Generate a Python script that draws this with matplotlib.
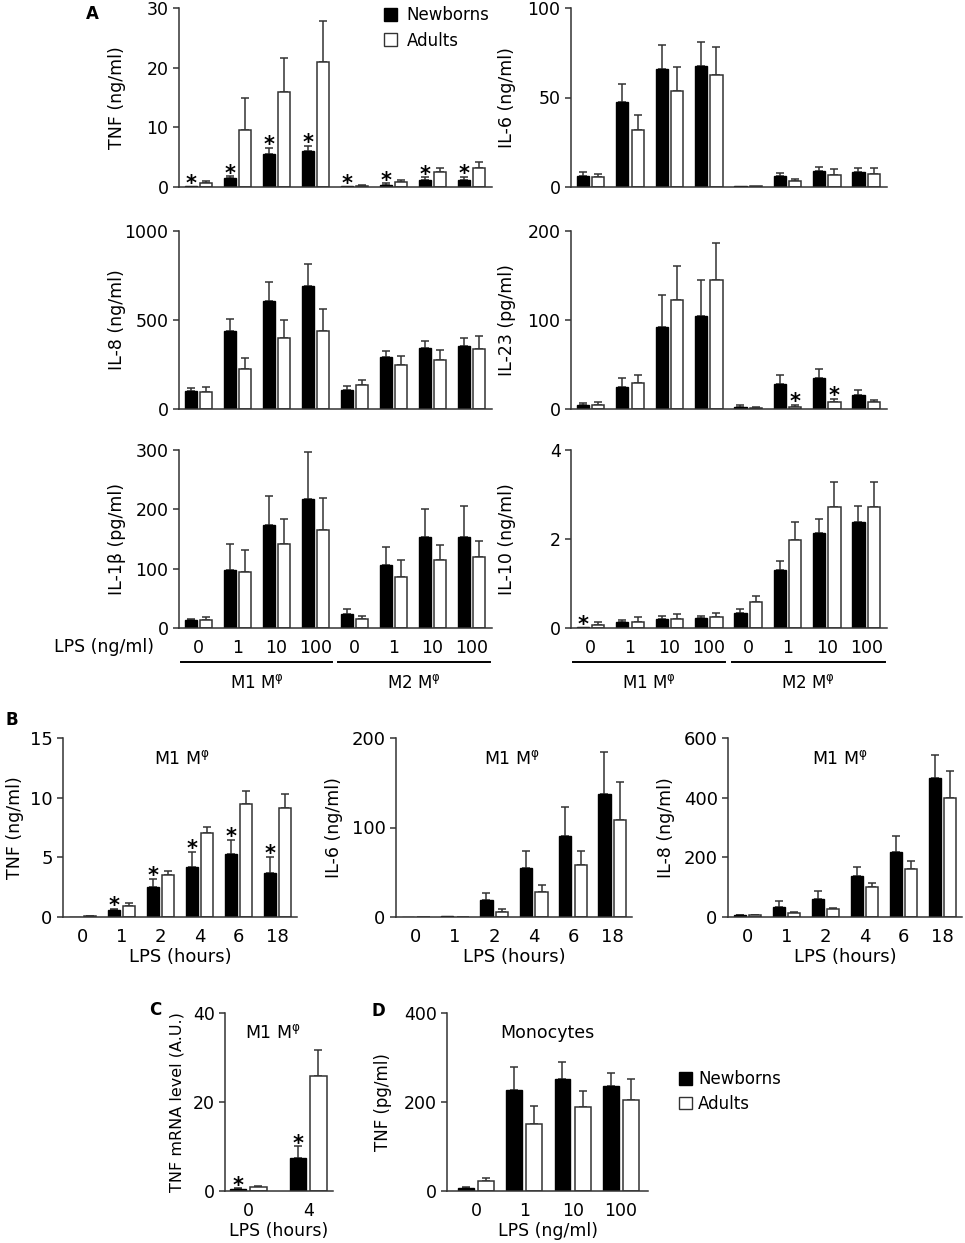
import numpy as np
import matplotlib
matplotlib.use('Agg')
import matplotlib.pyplot as plt
from matplotlib.patches import Patch
from matplotlib.transforms import blended_transform_factory

plt.rcParams['font.family'] = ['DejaVu Sans']
plt.rcParams['mathtext.default'] = 'regular'

W, H = 965, 1243
EDGE = '#333333'

# ---- Panel A: M1 / M2 macrophages, LPS dose (ng/ml) ----
dose_labels = ['0', '1', '10', '100', '0', '1', '10', '100']

tnf_n = [0.1, 1.45, 5.5, 6.0, 0.1, 0.4, 1.2, 1.2]
tnf_n_sem = [0, 0.35, 1.1, 0.9, 0, 0.2, 0.4, 0.5]
tnf_a = [0.7, 9.6, 16.0, 21.0, 0.2, 0.9, 2.5, 3.2]
tnf_a_sem = [0.3, 5.4, 5.6, 6.9, 0.1, 0.3, 0.7, 1.0]

il6_n = [6.2, 47.4, 65.7, 67.5, 0.3, 6.2, 9.0, 8.6]
il6_n_sem = [2.2, 10.1, 13.4, 13.7, 0, 1.8, 2.2, 2.0]
il6_a = [5.4, 32.1, 53.4, 62.7, 0.5, 3.2, 6.5, 7.5]
il6_a_sem = [2.1, 8.2, 13.8, 15.3, 0, 1.3, 3.4, 2.9]

il8_n = [99, 441, 609, 692, 108, 293, 344, 355]
il8_n_sem = [19, 67, 105, 125, 19, 32, 39, 45]
il8_a = [95, 226, 398, 437, 133, 249, 275, 338]
il8_a_sem = [30, 62, 101, 124, 28, 46, 58, 71]

il23_n = [4.5, 24.4, 92, 104, 2.3, 27.8, 34.6, 15.8]
il23_n_sem = [2.5, 10.2, 36.6, 41, 1.7, 10.9, 10.4, 6]
il23_a = [5, 29, 123, 145, 1.2, 2.3, 8.3, 7.5]
il23_a_sem = [3, 9.7, 38, 42, 1.3, 2.2, 3.4, 2.7]

il1b_n = [13, 97, 174, 217, 23.5, 106, 154, 154]
il1b_n_sem = [3, 44, 49, 80, 9, 30, 46, 51]
il1b_a = [13.5, 95, 141, 166, 15.7, 86, 115, 119]
il1b_a_sem = [4.5, 36, 43, 53, 4.3, 28, 25, 28]

il10_n = [0.02, 0.14, 0.20, 0.22, 0.34, 1.31, 2.14, 2.39]
il10_n_sem = [0, 0.05, 0.07, 0.06, 0.09, 0.19, 0.30, 0.35]
il10_a = [0.07, 0.14, 0.21, 0.24, 0.58, 1.97, 2.73, 2.71]
il10_a_sem = [0.07, 0.11, 0.10, 0.10, 0.15, 0.42, 0.56, 0.58]

# ---- Panel B: M1 macrophages, LPS time course (hours) ----
hours_labels = ['0', '1', '2', '4', '6', '18']

b_tnf_n = [0.02, 0.56, 2.53, 4.19, 5.25, 3.71]
b_tnf_n_sem = [0, 0.14, 0.67, 1.26, 1.21, 1.35]
b_tnf_a = [0.05, 0.96, 3.54, 7.08, 9.49, 9.1]
b_tnf_a_sem = [0.03, 0.22, 0.31, 0.45, 1.04, 1.24]

b_il6_n = [0.3, 1.0, 19, 54.3, 90.3, 137]
b_il6_n_sem = [0, 0, 7.6, 19.5, 32.7, 47]
b_il6_a = [0.3, 0.5, 6, 28.1, 58.4, 108]
b_il6_a_sem = [0, 0, 2.6, 7.5, 15, 43]

b_il8_n = [5.6, 34, 60, 138, 218, 466]
b_il8_n_sem = [2.4, 18, 28, 29, 53, 78]
b_il8_a = [5.6, 14.6, 28, 102, 161, 398]
b_il8_a_sem = [2.4, 3.4, 3, 11, 27, 91]

# ---- Panel C: TNF mRNA ----
c_labels = ['0', '4']
c_n = [0.37, 7.5]
c_n_sem = [0.23, 2.6]
c_a = [0.97, 25.8]
c_a_sem = [0.23, 5.8]

# ---- Panel D: monocytes ----
d_labels = ['0', '1', '10', '100']
d_n = [7.5, 228, 252, 235]
d_n_sem = [2.2, 51, 39, 30]
d_a = [23, 150, 189, 204]
d_a_sem = [6, 42, 36, 47]


def axes_px(fig, left, top, right, bottom):
    return fig.add_axes([left / W, 1 - bottom / H, (right - left) / W, (bottom - top) / H])


def errs(ax, x, mean, sem):
    x = np.asarray(x)
    mean = np.asarray(mean, float)
    sem = np.asarray(sem, float)
    keep = sem > 0
    ax.errorbar(x[keep], mean[keep], yerr=[np.zeros(keep.sum()), sem[keep]], fmt='none',
                ecolor=EDGE, elinewidth=1.1, capsize=2.6, capthick=1.1, zorder=1)


def star(ax, x, y):
    # significance asterisk sitting just above the error cap
    ax.annotate('*', (x, y), xytext=(0, -2.5), textcoords='offset points',
                ha='center', va='baseline', fontsize=15, fontweight='bold', annotation_clip=False)


def bar_panel(ax, n, n_sem, a, a_sem, yticks, width, off, xlim,
              stars_n=(), stars_a=(), fs=12.5):
    x = np.arange(len(n))
    errs(ax, x - off, n, n_sem)
    errs(ax, x + off, a, a_sem)
    ax.bar(x - off, n, width, color='black', edgecolor='black', linewidth=1, zorder=2)
    ax.bar(x + off, a, width, color='white', edgecolor=EDGE, linewidth=1.1, zorder=2)
    for i in stars_n:
        star(ax, i - off, n[i] + n_sem[i])
    for i in stars_a:
        star(ax, i + off, a[i] + a_sem[i])
    ax.set_xlim(*xlim)
    ax.set_ylim(0, yticks[-1])
    ax.set_yticks(yticks)
    for s in ['top', 'right']:
        ax.spines[s].set_visible(False)
    for s in ['left', 'bottom']:
        ax.spines[s].set_color(EDGE)
        ax.spines[s].set_linewidth(1.1)
    ax.tick_params(axis='y', direction='out', length=4.5, width=1.1, color=EDGE,
                   labelsize=fs, pad=3)
    ax.tick_params(axis='x', length=0, labelsize=fs, pad=8)
    ax.set_xticks([])


def ylab(ax, text, px, left, right, fs=12.5):
    ax.set_ylabel(text, fontsize=fs, va='center')
    ax.yaxis.set_label_coords((px - left) / (right - left), 0.5)


def legend_handles():
    return [Patch(facecolor='black', edgecolor='black', label='Newborns'),
            Patch(facecolor='white', edgecolor=EDGE, label='Adults')]


fig = plt.figure(figsize=(W / 100, H / 100), dpi=100)

# ---- Panel A ----
colA = [(179, 492), (571, 887)]
rowA = [(8, 187), (231, 409), (450, 628)]
xlimA = (-0.5, 7.53)
wA, offA = 0.31, 0.195

panelsA = [
    (0, 0, tnf_n, tnf_n_sem, tnf_a, tnf_a_sem, [0, 10, 20, 30], 'TNF (ng/ml)', range(8), ()),
    (0, 1, il6_n, il6_n_sem, il6_a, il6_a_sem, [0, 50, 100], 'IL-6 (ng/ml)', (), ()),
    (1, 0, il8_n, il8_n_sem, il8_a, il8_a_sem, [0, 500, 1000], 'IL-8 (ng/ml)', (), ()),
    (1, 1, il23_n, il23_n_sem, il23_a, il23_a_sem, [0, 100, 200], 'IL-23 (pg/ml)', (), (5, 6)),
    (2, 0, il1b_n, il1b_n_sem, il1b_a, il1b_a_sem, [0, 100, 200, 300], 'IL-1β (pg/ml)', (), ()),
    (2, 1, il10_n, il10_n_sem, il10_a, il10_a_sem, [0, 2, 4], 'IL-10 (ng/ml)', (0,), ()),
]
ylab_x = [117, 507]
for r, c, n, ns, a, as_, yt, lab, sn, sa in panelsA:
    l, rr = colA[c]
    t, b = rowA[r]
    ax = axes_px(fig, l, t, rr, b)
    bar_panel(ax, n, ns, a, as_, yt, wA, offA, xlimA, sn, sa)
    ylab(ax, lab, ylab_x[c], l, rr)
    if r == 0 and c == 0:
        ax.legend(handles=legend_handles(), loc='upper left',
                  bbox_to_anchor=((384 - l) / (rr - l), (b - 6) / (b - t)),
                  frameon=False, fontsize=12, handlelength=0.8, handleheight=0.8,
                  handletextpad=0.55, labelspacing=0.45, borderaxespad=0, borderpad=0)
    if r == 2:
        ax.set_xticks(np.arange(8))
        ax.set_xticklabels(dose_labels)
        tr = blended_transform_factory(ax.transData, ax.transAxes)
        yb = (b - 662) / (b - t)
        yt_ = (b - 683) / (b - t)
        for x0, x1, name in [(-0.45, 3.42, 'M1 M$^{φ}$'), (3.58, 7.47, 'M2 M$^{φ}$')]:
            ax.plot([x0, x1], [yb, yb], color='black', lw=1.4, transform=tr, clip_on=False)
            ax.text((x0 + x1) / 2, yt_, name, transform=tr, ha='center', va='center', fontsize=12)

fig.text(104 / W, 1 - 647 / H, 'LPS (ng/ml)', ha='center', va='center', fontsize=12.5)

# ---- Panel B ----
fsB = 13
panelsB = [
    ((63, 738, 297, 917), b_tnf_n, b_tnf_n_sem, b_tnf_a, b_tnf_a_sem, [0, 5, 10, 15],
     'TNF (ng/ml)', 15, (1, 2, 3, 4, 5), 0.51),
    ((396, 738, 632, 917), b_il6_n, b_il6_n_sem, b_il6_a, b_il6_a_sem, [0, 100, 200],
     'IL-6 (ng/ml)', 334, (), 0.49),
    ((728, 738, 962, 917), b_il8_n, b_il8_n_sem, b_il8_a, b_il8_a_sem, [0, 200, 400, 600],
     'IL-8 (ng/ml)', 666, (), 0.48),
]
for (l, t, rr, b), n, ns, a, as_, yt, lab, lx, sn, tx in panelsB:
    ax = axes_px(fig, l, t, rr, b)
    bar_panel(ax, n, ns, a, as_, yt, 0.31, 0.2, (-0.5, 5.5), sn, (), fs=fsB)
    ax.set_xticks(np.arange(6))
    ax.set_xticklabels(hours_labels)
    ax.set_xlabel('LPS (hours)', fontsize=fsB, labelpad=1)
    ylab(ax, lab, lx, l, rr, fs=12.5)
    ax.text(tx, 0.88, 'M1 M$^{φ}$', transform=ax.transAxes, ha='center', va='center', fontsize=12.5)

# ---- Panel C ----
fsC = 12.5
l, t, rr, b = 225, 1013, 333, 1191
ax = axes_px(fig, l, t, rr, b)
bar_panel(ax, c_n, c_n_sem, c_a, c_a_sem, [0, 20, 40], 0.27, 0.167, (-0.39, 1.41), (0, 1), (), fs=fsC)
ax.set_xticks(np.arange(2))
ax.set_xticklabels(c_labels)
ax.set_xlabel('LPS (hours)', fontsize=fsC, labelpad=1)
ylab(ax, 'TNF mRNA level (A.U.)', 177, l, rr, fs=11.5)
ax.text(0.44, 0.89, 'M1 M$^{φ}$', transform=ax.transAxes, ha='center', va='center', fontsize=fsC)

# ---- Panel D ----
l, t, rr, b = 447, 1013, 648, 1191
ax = axes_px(fig, l, t, rr, b)
bar_panel(ax, d_n, d_n_sem, d_a, d_a_sem, [0, 200, 400], 0.33, 0.21, (-0.6, 3.56), fs=fsC)
ax.set_xticks(np.arange(4))
ax.set_xticklabels(d_labels)
ax.set_xlabel('LPS (ng/ml)', fontsize=fsC, labelpad=1)
ylab(ax, 'TNF (pg/ml)', 383, l, rr, fs=12)
ax.text(0.5, 0.89, 'Monocytes', transform=ax.transAxes, ha='center', va='center', fontsize=fsC)
fig.legend(handles=legend_handles(), loc='upper left', bbox_to_anchor=(679 / W, 1 - 1070 / H),
           frameon=False, fontsize=12, handlelength=0.8, handleheight=0.8,
           handletextpad=0.35, labelspacing=0.4, borderaxespad=0, borderpad=0)

# panel letters
for letter, px, py in [('A', 92, 14), ('B', 12, 720), ('C', 155, 1010), ('D', 378, 1011)]:
    fig.text(px / W, 1 - py / H, letter, ha='center', va='center', fontsize=12, fontweight='bold')

fig.savefig('out.png', dpi=100)
